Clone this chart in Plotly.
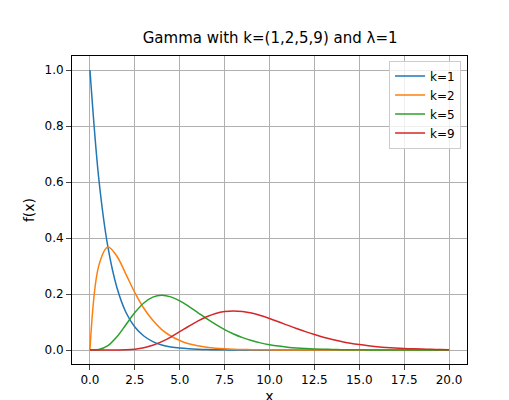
import plotly.graph_objects as go

x = [i * 0.5 for i in range(41)]
k1 = [1, .607, .368, .223, .135, .082, .050, .030, .018, .011, .0067, .0041, .0025, .0015, .0009, .0006, .0003, .0002, .0001, .0001] + [0] * 21
k2 = [0, .303, .368, .335, .271, .205, .149, .106, .073, .050, .034, .022, .015, .0098, .0064, .0041, .0027, .0017, .0011, .0007, .0005, .0003, .0002, .0001, .0001] + [0] * 16
k5 = [0, .0016, .0153, .0471, .0902, .1336, .168, .1888, .1954, .1898, .1755, .1558, .1339, .1118, .0912, .0729, .0573, .0443, .0337, .0254, .0189, .0139, .0102, .0074, .0053, .0038, .0027, .0019, .0013, .0009, .0006, .0004, .0003, .0002, .0001, .0001, 0, 0, 0, 0, 0]
k9 = [0, 0, .00001, .00014, .00086, .0031, .0081, .0169, .0298, .0463, .0653, .0849, .1033, .1186, .1304, .1373, .1396, .1373, .1318, .1232, .1126, .1010, .0888, .0770, .0655, .0553, .0457, .0375, .0304, .0244, .0194, .0153, .0120, .0093, .0072, .0055, .0042, .0032, .0024, .0018, .0013]

series = [("k=1", k1, "#1f77b4"), ("k=2", k2, "#ff7f0e"), ("k=5", k5, "#2ca02c"), ("k=9", k9, "#d62728")]

fig = go.Figure()
for name, y, c in series:
    fig.add_trace(go.Scatter(x=x, y=y, mode="lines", name=name,
                             line=dict(color=c, width=1.5, shape="spline")))

ax = dict(showline=True, linecolor="black", mirror=True, ticks="outside", automargin=False,
          showgrid=True, gridcolor="#b0b0b0", gridwidth=0.8, zeroline=False,
          tickfont=dict(size=12, color="black"))
fig.update_layout(
    width=509, height=400, plot_bgcolor="white", paper_bgcolor="white",
    font=dict(family="DejaVu Sans", size=12, color="black"),
    title=dict(text="Gamma with k=(1,2,5,9) and λ=1", x=0.515, xanchor="center", y=0.94, font=dict(size=15)),
    margin=dict(l=64, r=50, t=48, b=44),
    xaxis=dict(ax, range=[-1, 21], tickvals=[0, 2.5, 5, 7.5, 10, 12.5, 15, 17.5, 20],
               ticktext=["0.0", "2.5", "5.0", "7.5", "10.0", "12.5", "15.0", "17.5", "20.0"],
               title=dict(text="x", standoff=4)),
    yaxis=dict(ax, range=[-0.05, 1.05], tickvals=[0, 0.2, 0.4, 0.6, 0.8, 1.0],
               ticktext=["0.0", "0.2", "0.4", "0.6", "0.8", "1.0"],
               title=dict(text="f(x)", standoff=6)),
    legend=dict(x=0.985, y=0.985, xanchor="right", yanchor="top", bordercolor="#cccccc",
                borderwidth=1, bgcolor="rgba(255,255,255,0.8)", font=dict(size=12)),
)
fig.write_html("out.html")
